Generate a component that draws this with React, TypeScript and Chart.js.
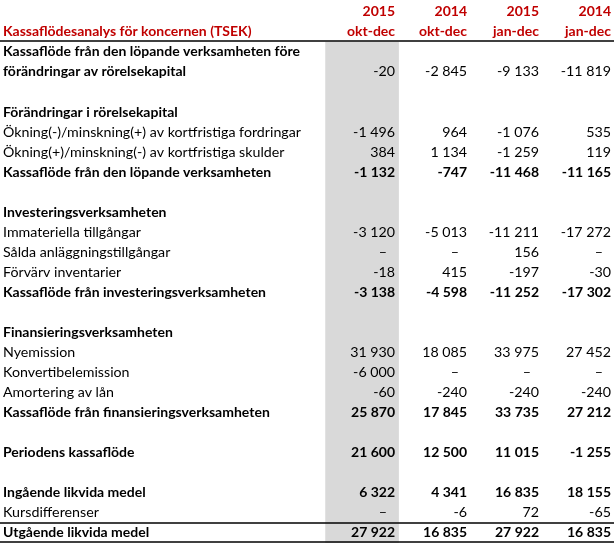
import React, { useEffect, useRef } from "react";
import { Chart, registerables } from "chart.js";

Chart.register(...registerables);

// ---------- data ----------
const title = "Kassaflödesanalys för koncernen (TSEK)";
const columnYears = ["2015", "2014", "2015", "2014"];
const columnPeriods = ["okt-dec", "okt-dec", "jan-dec", "jan-dec"];

const rowLabels = [
  "Kassaflöde från den löpande verksamheten före",
  "förändringar av rörelsekapital",
  "",
  "Förändringar i rörelsekapital",
  "Ökning(-)/minskning(+) av kortfristiga fordringar",
  "Ökning(+)/minskning(-) av kortfristiga skulder",
  "Kassaflöde från den löpande verksamheten",
  "",
  "Investeringsverksamheten",
  "Immateriella tillgångar",
  "Sålda anläggningstillgångar",
  "Förvärv inventarier",
  "Kassaflöde från investeringsverksamheten",
  "",
  "Finansieringsverksamheten",
  "Nyemission",
  "Konvertibelemission",
  "Amortering av lån",
  "Kassaflöde från finansieringsverksamheten",
  "",
  "Periodens kassaflöde",
  "",
  "Ingående likvida medel",
  "Kursdifferenser",
  "Utgående likvida medel",
];

// null = empty cell, 0 = dash
const values2015OktDec = [null, -20, null, null, -1496, 384, -1132, null, null, -3120, 0, -18, -3138, null, null, 31930, -6000, -60, 25870, null, 21600, null, 6322, 0, 27922];
const values2014OktDec = [null, -2845, null, null, 964, 1134, -747, null, null, -5013, 0, 415, -4598, null, null, 18085, 0, -240, 17845, null, 12500, null, 4341, -6, 16835];
const values2015JanDec = [null, -9133, null, null, -1076, -1259, -11468, null, null, -11211, 156, -197, -11252, null, null, 33975, 0, -240, 33735, null, 11015, null, 16835, 72, 27922];
const values2014JanDec = [null, -11819, null, null, 535, 119, -11165, null, null, -17272, 0, -30, -17302, null, null, 27452, 0, -240, 27212, null, -1255, null, 18155, -65, 16835];

const boldLabelRows = [0, 1, 3, 6, 8, 12, 14, 18, 20, 22, 24];
const boldValueRows = [6, 12, 18, 20, 22, 24];
const smallRows = [23];

// ---------- layout (scale space) ----------
const HEADER_ROWS = 2;
const X_MIN = -4.03;
const X_MAX = 4.5;
const Y_MIN = -0.6;
const Y_MAX = 26.5;
const FONT = "Lato, 'Open Sans', sans-serif";
const RED = "#c00000";
const SIZE = 13.5;
const SMALL = 13;
// width calibration (target pixel widths of sample strings in a Calibri-like metric)
const CAL_REG = { text: "Ökning(-)/minskning(+) av kortfristiga fordringar", width: 298 };
const CAL_BOLD = { text: "Kassaflöde från den löpande verksamheten före", width: 297 };
const CAL_SMALL = { text: "Kursdifferenser", width: 96 };

const columns = [values2015OktDec, values2014OktDec, values2015JanDec, values2014JanDec];

function fmt(n: number): string {
  if (n === 0) return "–";
  const s = Math.abs(n).toString().replace(/\B(?=(\d{3})+(?!\d))/g, " ");
  return (n < 0 ? "-" : "") + s;
}

function fontOf(bold: boolean, size: number) {
  return `${bold ? "bold " : ""}${size}px ${FONT}`;
}

const tablePlugin = {
  id: "tableText",
  afterDatasetsDraw(chart: any) {
    const { ctx, scales } = chart;
    const xs = scales.x;
    const ys = scales.y;

    const calib = (bold: boolean, size: number, c: { text: string; width: number }) => {
      ctx.font = fontOf(bold, size);
      return c.width / ctx.measureText(c.text).width;
    };
    const sxReg = calib(false, SIZE, CAL_REG);
    const sxBold = calib(true, SIZE, CAL_BOLD);
    const sxSmall = calib(false, SMALL, CAL_SMALL);

    const put = (txt: string, x: number, y: number, bold: boolean, small: boolean, align: string) => {
      ctx.save();
      ctx.font = fontOf(bold, small ? SMALL : SIZE);
      ctx.textAlign = align;
      ctx.textBaseline = "middle";
      ctx.translate(x, y);
      ctx.scale(small ? sxSmall : bold ? sxBold : sxReg, 1);
      ctx.fillText(txt, 0, 0);
      ctx.restore();
    };

    ctx.save();
    const leftX = xs.getPixelForValue(X_MIN) + 3;
    const colRight = (c: number) => xs.getPixelForValue(c + 1.5) - 3;

    // header
    ctx.fillStyle = RED;
    put(title, leftX, ys.getPixelForValue(1), true, false, "left");
    columnYears.forEach((yr, c) => {
      put(yr, colRight(c), ys.getPixelForValue(0), true, false, "right");
      put(columnPeriods[c], colRight(c), ys.getPixelForValue(1), true, false, "right");
    });

    // rows
    ctx.fillStyle = "#000";
    rowLabels.forEach((label, r) => {
      const y = ys.getPixelForValue(r + HEADER_ROWS);
      const small = smallRows.includes(r);
      if (label) put(label, leftX, y, boldLabelRows.includes(r), small, "left");
      columns.forEach((col, c) => {
        const v = col[r];
        if (v === null || v === undefined) return;
        put(fmt(v), colRight(c) - (v === 0 ? 8 : 0), y, boldValueRows.includes(r), small, "right");
      });
    });
    ctx.restore();
  },
};

export default function App() {
  const ref = useRef<HTMLCanvasElement | null>(null);
  useEffect(() => {
    if (!ref.current) return;
    const hLine = (yv: number) => ({
      type: "line" as const,
      data: [
        { x: X_MIN, y: yv },
        { x: X_MAX, y: yv },
      ],
      borderColor: "#000",
      borderWidth: 1.5,
      pointRadius: 0,
      clip: false as any,
      order: 0,
    });
    const chart = new Chart(ref.current, {
      type: "bar",
      data: {
        datasets: [
          {
            type: "bar",
            data: [{ x: 1, y: [HEADER_ROWS - 0.5, Y_MAX] }] as any,
            backgroundColor: "#d9d9d9",
            barThickness: 73,
            borderWidth: 0,
            order: 1,
          } as any,
          hLine(HEADER_ROWS - 0.55),
          hLine(HEADER_ROWS + 23.5),
          hLine(HEADER_ROWS + 24.45),
        ],
      },
      options: {
        animation: false,
        responsive: false,
        events: [],
        layout: { padding: 0 },
        scales: {
          x: { type: "linear", min: X_MIN, max: X_MAX, display: false, offset: false },
          y: { type: "linear", min: Y_MIN, max: Y_MAX, reverse: true, display: false },
        },
        plugins: { legend: { display: false }, tooltip: { enabled: false } },
      },
      plugins: [tablePlugin],
    });
    return () => chart.destroy();
  }, []);
  return (
    <div style={{ position: "fixed", left: 0, top: 0, width: 614, height: 543, background: "#fff" }}>
      <canvas ref={ref} width={614} height={543} style={{ display: "block" }} />
    </div>
  );
}
